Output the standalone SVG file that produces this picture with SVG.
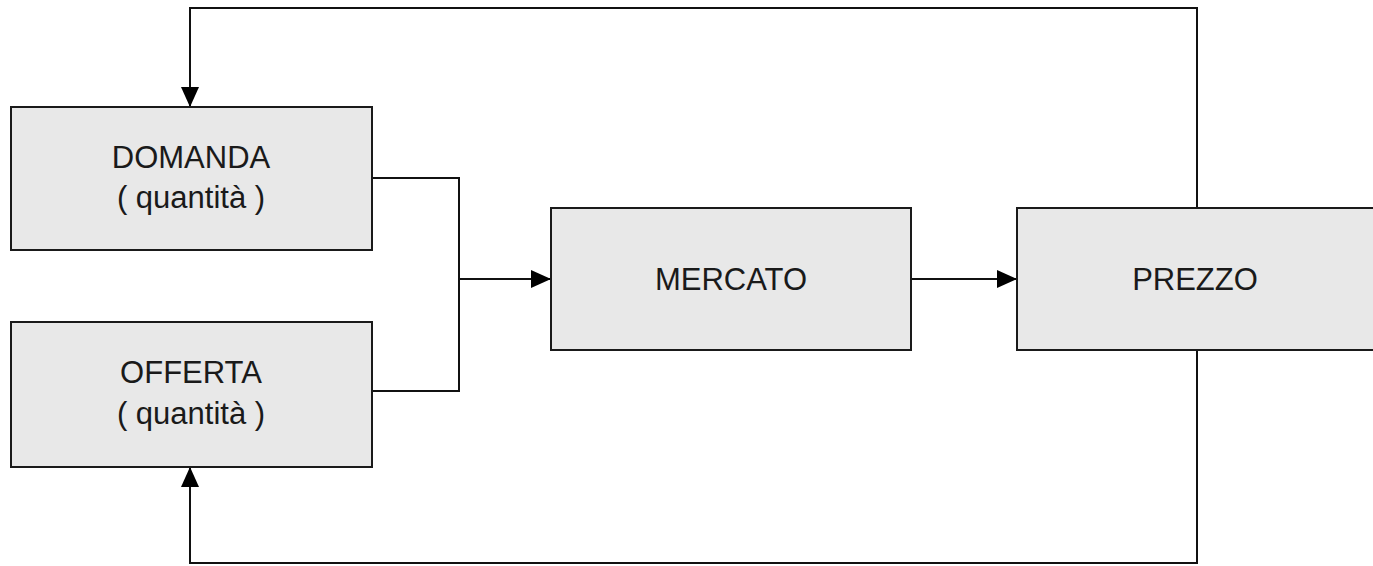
<svg xmlns="http://www.w3.org/2000/svg" width="1373" height="566" viewBox="0 0 1373 566">
<defs>
<style>
.box{fill:#e8e8e8;stroke:#1a1a1a;stroke-width:2}
.lbl{font-family:"Liberation Sans",Arial,sans-serif;font-size:31px;fill:#1a1a1a;text-anchor:middle}
.con{fill:none;stroke:#111;stroke-width:2}
</style>
<marker id="arr" viewBox="0 0 20 20" refX="20" refY="10" markerWidth="20" markerHeight="20" markerUnits="userSpaceOnUse" orient="auto">
<path d="M0,1 L20,10 L0,19 Z" fill="#000"/>
</marker>
</defs>
<rect width="1373" height="566" fill="#fff"/>
<g id="connectors">
<polyline class="con" points="372,178 459,178 459,391 372,391"/>
<line class="con" x1="459" y1="279" x2="551" y2="279" marker-end="url(#arr)"/>
<line class="con" x1="911" y1="279" x2="1017" y2="279" marker-end="url(#arr)"/>
<polyline class="con" points="1197,208 1197,8 190,8 190,107" marker-end="url(#arr)"/>
<polyline class="con" points="1197,350 1197,563 190,563 190,467" marker-end="url(#arr)"/>
</g>
<g id="domanda">
<rect class="box" x="11" y="107" width="361" height="143"/>
<text class="lbl" x="191" y="168">DOMANDA</text>
<text class="lbl" x="191" y="208">( quantità )</text>
</g>
<g id="offerta">
<rect class="box" x="11" y="322" width="361" height="145"/>
<text class="lbl" x="191" y="383">OFFERTA</text>
<text class="lbl" x="191" y="424">( quantità )</text>
</g>
<g id="mercato">
<rect class="box" x="551" y="208" width="360" height="142"/>
<text class="lbl" x="731" y="290">MERCATO</text>
</g>
<g id="prezzo">
<rect class="box" x="1017" y="208" width="360" height="142"/>
<text class="lbl" x="1195" y="290">PREZZO</text>
</g>
</svg>
